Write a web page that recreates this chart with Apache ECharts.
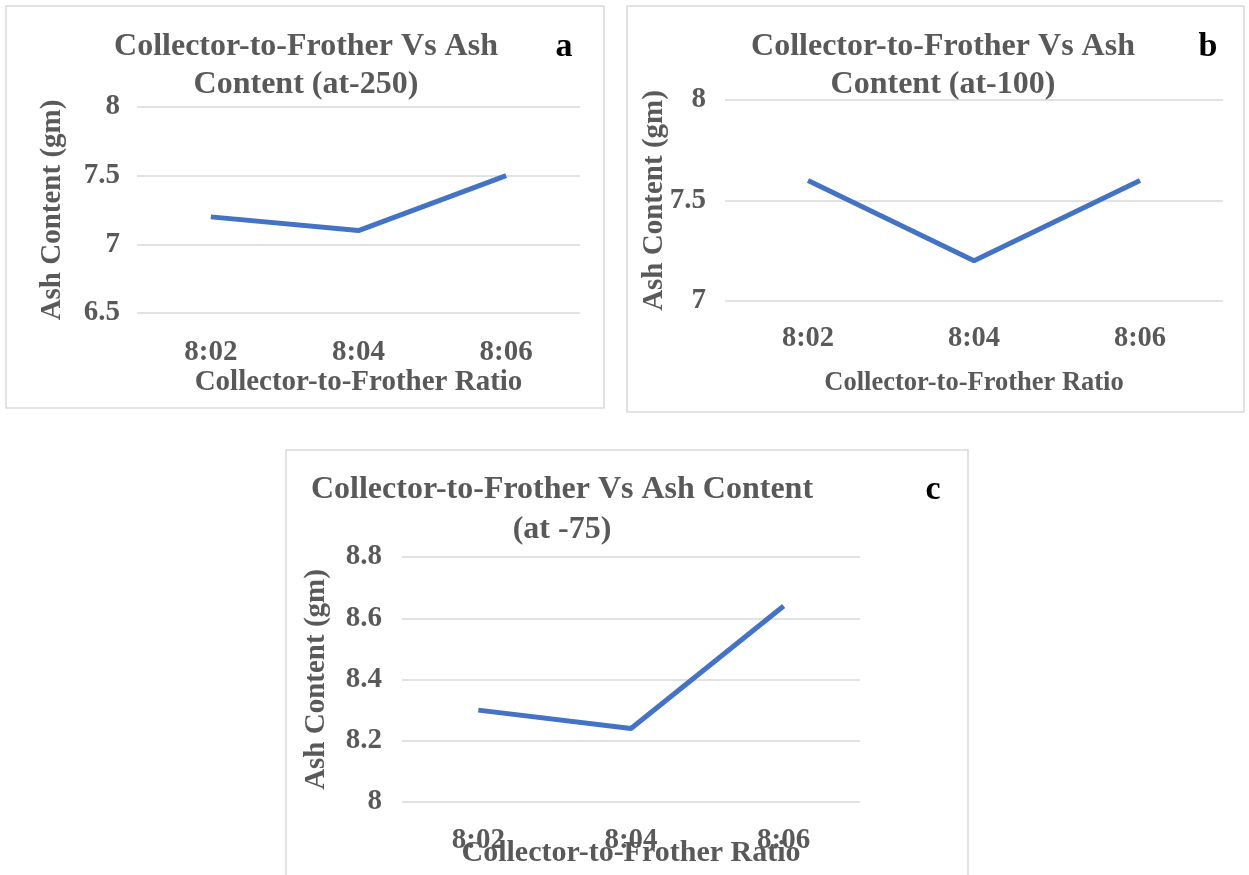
<!DOCTYPE html>
<html>
<head>
<meta charset="utf-8">
<script src="https://cdn.jsdelivr.net/npm/echarts@6/dist/echarts.min.js"></script>
<style>
html,body{margin:0;padding:0;background:#fff;}
#main{width:1249px;height:875px;}
</style>
</head>
<body>
<div id="main"></div>
<script>
const categories = ['8:02', '8:04', '8:06'];
const ashA = [7.2, 7.1, 7.5];
const ashB = [7.6, 7.2, 7.6];
const ashC = [8.3, 8.24, 8.64];
const titleA = 'Collector-to-Frother Vs Ash\nContent (at-250)';
const titleB = 'Collector-to-Frother Vs Ash\nContent (at-100)';
const titleC = 'Collector-to-Frother Vs Ash Content\n(at -75)';
const xName = 'Collector-to-Frother Ratio';
const yName = 'Ash Content (gm)';

const FONT = '"Liberation Serif", "Times New Roman", serif';
const GREY = '#595959';
const GRID = '#d9d9d9';
const BLUE = '#4472C4';

function xAxis(gridIndex, fs, margin, nameFs, nameGap) {
  return {
    type: 'category', gridIndex: gridIndex, data: categories,
    axisLine: {show: false}, axisTick: {show: false},
    axisLabel: {color: GREY, fontFamily: FONT, fontWeight: 'bold', fontSize: fs, margin: margin},
    name: xName, nameLocation: 'middle', nameGap: nameGap, nameMoveOverlap: false,
    nameTextStyle: {color: GREY, fontFamily: FONT, fontWeight: 'bold', fontSize: nameFs}
  };
}
function yAxis(gridIndex, min, max, interval, margin, nameGap) {
  return {
    type: 'value', gridIndex: gridIndex, min: min, max: max, interval: interval,
    axisLine: {show: false}, axisTick: {show: false},
    splitLine: {show: true, lineStyle: {color: GRID, width: 1.5}},
    axisLabel: {color: GREY, fontFamily: FONT, fontWeight: 'bold', fontSize: 29, margin: margin},
    name: yName, nameLocation: 'middle', nameGap: nameGap, nameRotate: 90, nameMoveOverlap: false,
    nameTextStyle: {color: GREY, fontFamily: FONT, fontWeight: 'bold', fontSize: 29}
  };
}
function title(text, cx, top, lh) {
  return {
    text: text, left: cx, top: top, textAlign: 'center', textVerticalAlign: 'top', padding: 0,
    textStyle: {color: GREY, fontFamily: FONT, fontWeight: 'bold', fontSize: 32, lineHeight: lh}
  };
}
function series(idx, data) {
  return {
    type: 'line', xAxisIndex: idx, yAxisIndex: idx, data: data,
    symbol: 'none', lineStyle: {color: BLUE, width: 5}, silent: true, animation: false
  };
}
function border(x, y, w, h) {
  return {type: 'rect', shape: {x: x, y: y, width: w, height: h},
    style: {fill: 'none', stroke: GRID, lineWidth: 1.5}, silent: true};
}
function letter(t, x, y) {
  return {type: 'text', x: x, y: y,
    style: {text: t, fill: '#000', font: 'bold 34px ' + FONT, align: 'center', verticalAlign: 'middle'}};
}

const chart = echarts.init(document.getElementById('main'));
chart.setOption({
  animation: false,
  backgroundColor: '#fff',
  title: [
    title(titleA, 306, 28, 38),
    title(titleB, 943, 28, 38),
    title(titleC, 562, 470, 40)
  ],
  grid: [
    {left: 137, top: 107, width: 443, height: 206, outerBoundsMode: 'none', containLabel: false},
    {left: 725, top: 100, width: 498, height: 201, outerBoundsMode: 'none', containLabel: false},
    {left: 402, top: 557, width: 458, height: 245, outerBoundsMode: 'none', containLabel: false}
  ],
  xAxis: [
    xAxis(0, 29, 25, 29, 55),
    xAxis(1, 28.5, 23, 26.5, 69),
    xAxis(2, 29, 24, 30, 36)
  ],
  yAxis: [
    yAxis(0, 6.5, 8, 0.5, 17, 70),
    yAxis(1, 7, 8, 0.5, 19, 56),
    yAxis(2, 8, 8.8, 0.2, 20, 71)
  ],
  series: [series(0, ashA), series(1, ashB), series(2, ashC)],
  graphic: [
    border(6, 6, 598, 402),
    border(627, 6, 617, 406),
    border(286, 450, 682, 440),
    letter('a', 564, 47),
    letter('b', 1208, 47),
    letter('c', 933, 490)
  ]
});
</script>
</body>
</html>
